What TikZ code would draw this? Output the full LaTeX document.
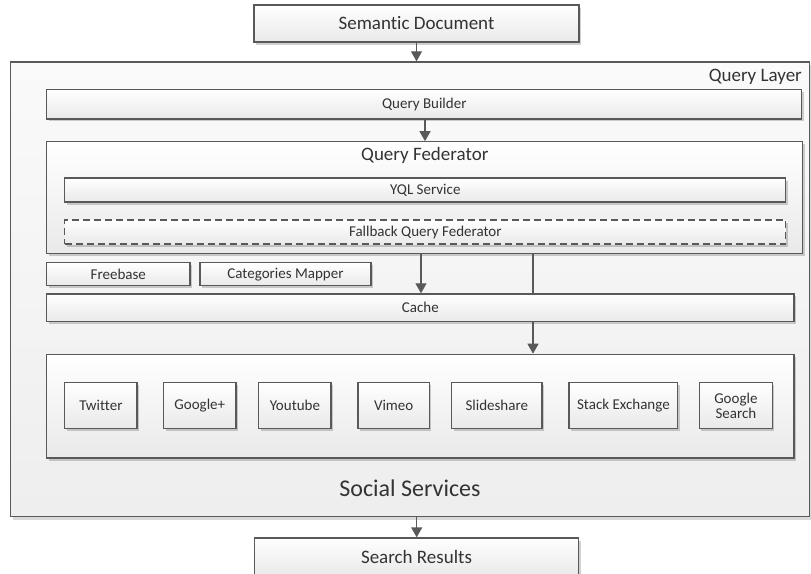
\documentclass[tikz,border=0pt]{standalone}
\usepackage{fontspec}
\setmainfont{Carlito}[Ligatures={NoCommon}]
\usetikzlibrary{arrows.meta,shadows}
\definecolor{lineC}{HTML}{595959}
\definecolor{txtC}{HTML}{333333}
\definecolor{boxBot}{HTML}{E9E9E9}
\definecolor{outTop}{HTML}{FAFAFA}
\definecolor{outBot}{HTML}{EEEEEE}
\tikzset{
  box/.style={draw=lineC, line width=1.3pt, top color=white, bottom color=boxBot,
    text=txtC, inner sep=0pt, align=center,
    drop shadow={shadow xshift=2pt, shadow yshift=-2.5pt, opacity=0.18, fill=black}},
  outerbox/.style={draw=lineC, line width=1.3pt, top color=outTop, bottom color=outBot,
    inner sep=0pt,
    drop shadow={shadow xshift=2pt, shadow yshift=-3pt, opacity=0.15, fill=black}},
  dashbox/.style={box, dashed, dash pattern=on 7pt off 4pt},
  big/.style={font=\fontsize{19}{22}\selectfont},
  small/.style={font=\fontsize{15}{17}\selectfont},
  svc/.style={box, small, minimum height=45.6pt},
  arr/.style={draw=lineC, line width=1.3pt, -{Triangle[width=11pt,length=10pt]}},
  ln/.style={draw=lineC, line width=1.3pt},
  lbl/.style={text=txtC, inner sep=0pt}
}
\begin{document}
\begin{tikzpicture}[x=1pt,y=-1pt]
\useasboundingbox (0,0) rectangle (811,573);
% outer Query Layer
\node[outerbox, minimum width=799pt, minimum height=454.7pt] (ql) at (410.3,289.3) {};
\node[lbl, big, anchor=east] (qllbl) at (802,77) {Query Layer};
% top / bottom boxes
\node[box, big, minimum width=325pt, minimum height=37pt] (sd) at (416.5,23.5) {Semantic Document};
\node[box, big, minimum width=324pt, minimum height=37pt] (sr) at (416.5,556.5) {Search Results};
% Query builder
\node[box, small, minimum width=755pt, minimum height=29.3pt] (qb) at (424.3,104.3) {Query Builder};
% Query federator
\node[box, minimum width=756pt, minimum height=112pt] (qf) at (424.8,197.8) {};
\node[lbl, big] (qflbl) at (424.8,155) {Query Federator};
\node[box, small, minimum width=721pt, minimum height=24pt] (yql) at (425.3,190) {YQL Service};
\node[dashbox, small, minimum width=721pt, minimum height=24pt] (fqf) at (425.3,232) {Fallback Query Federator};
% Freebase / categories
\node[box, small, minimum width=143.4pt, minimum height=23pt] (fb) at (118.3,274.2) {Freebase};
\node[box, small, minimum width=171pt, minimum height=23pt] (cm) at (285.5,274.2) {Categories Mapper};
% Cache
\node[box, small, minimum width=747.4pt, minimum height=27.7pt] (cache) at (420.3,307.8) {Cache};
% Social services
\node[box, minimum width=747.4pt, minimum height=103.7pt] (soc) at (420.3,406.2) {};
\node[svc, minimum width=72.3pt] (tw) at (100.9,405.5) {Twitter};
\node[svc, minimum width=72.5pt] (gp) at (199.8,405.5) {Google+};
\node[svc, minimum width=72.3pt] (yt) at (294.9,405.5) {Youtube};
\node[svc, minimum width=71.4pt] (vm) at (393.7,405.5) {Vimeo};
\node[svc, minimum width=90.4pt] (ss) at (496.8,405.5) {Slideshare};
\node[svc, minimum width=108.7pt] (se) at (623.4,405.5) {Stack Exchange};
\node[svc, minimum width=73pt] (gs) at (735.9,405.5) {Google\\[-2pt]Search};
\node[lbl, font=\fontsize{24}{28}\selectfont] (sslbl) at (410,488) {Social Services};
% connectors
\draw[arr] (sd.south -| 416.5,0) -- (ql.north -| 416.5,0);
\draw[arr] (qb.south -| 425,0) -- (qf.north -| 425,0);
\draw[arr] (qf.south -| 421,0) -- (cache.north -| 421,0);
\draw[ln] (qf.south -| 533,0) -- (cache.north -| 533,0);
\draw[arr] (cache.south -| 533,0) -- (soc.north -| 533,0);
\draw[arr] (ql.south -| 416.7,0) -- (sr.north -| 416.7,0);
\end{tikzpicture}
\end{document}
